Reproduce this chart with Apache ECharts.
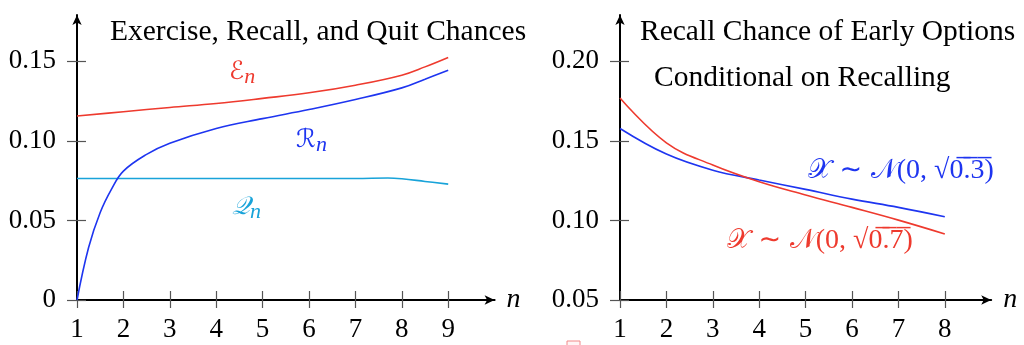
<!DOCTYPE html>
<html>
<head>
<meta charset="utf-8">
<script src="https://cdn.jsdelivr.net/npm/echarts@6/dist/echarts.min.js"></script>
<style>html,body{margin:0;padding:0;background:#fff}#c{width:1024px;height:345px}</style>
</head>
<body>
<div id="c"></div>
<script>
// ---- Left panel data ----
const leftTitle = "Exercise, Recall, and Quit Chances";
const nExercise = [1, 2, 3, 4, 5, 6, 7, 8, 8.5, 9];
const exercise  = [0.1156, 0.1183, 0.1210, 0.1235, 0.1267, 0.1302, 0.1350, 0.1413, 0.1465, 0.1524];
const nRecall   = [1, 1.25, 1.5, 1.75, 2, 2.5, 3, 4, 5, 6, 7, 8, 8.5, 9];
const recall    = [0, 0.033, 0.055, 0.070, 0.081, 0.0915, 0.0985, 0.1078, 0.1140, 0.1197, 0.1260, 0.1333, 0.1388, 0.1444];
const nQuit     = [1, 2, 3, 4, 5, 6, 7, 7.7, 8, 8.5, 9];
const quit      = [0.0764, 0.0764, 0.0764, 0.0764, 0.0764, 0.0764, 0.0764, 0.0767, 0.0762, 0.0745, 0.0728];
const leftXTicks = [1, 2, 3, 4, 5, 6, 7, 8, 9];
const leftYTicks = [0, 0.05, 0.10, 0.15];

// ---- Right panel data ----
const rightTitle1 = "Recall Chance of Early Options";
const rightTitle2 = "Conditional on Recalling";
const nRight     = [1, 2, 3, 4, 5, 6, 7, 8];
const recallLow  = [0.1578, 0.1417, 0.1316, 0.1254, 0.1195, 0.1134, 0.1082, 0.1023];
const recallHigh = [0.1770, 0.1488, 0.1348, 0.1243, 0.1160, 0.1082, 0.1002, 0.0915];
const rightXTicks = [1, 2, 3, 4, 5, 6, 7, 8];
const rightYTicks = [0.05, 0.10, 0.15, 0.20];

const RED = '#ee3a2e', BLUE = '#1e35f0', CYAN = '#18a3d9';
const FONT = "'Liberation Serif'";
const MATH = "'DejaVu Sans', serif";

const pairs = (xs, ys) => xs.map((x, i) => [x, ys[i]]);
const fmtY = v => (Math.abs(v) < 1e-9 ? '0' : v.toFixed(2));

function xMain(grid, min, max, ticks) {
  return {
    type: 'value', gridIndex: grid, min, max, position: 'bottom',
    axisLine: { show: true, onZero: false, symbol: ['none', 'arrow'], symbolSize: [7, 10],
      lineStyle: { color: '#000', width: 2 } },
    axisTick: { show: true, inside: false, length: 8, customValues: ticks, lineStyle: { color: '#555', width: 1.2 } },
    axisLabel: { show: true, customValues: ticks, margin: 16, color: '#000', fontFamily: FONT, fontSize: 27 },
    splitLine: { show: false },
    name: 'n', nameLocation: 'end', nameGap: 12,
    nameTextStyle: { fontFamily: FONT, fontStyle: 'italic', fontSize: 28, color: '#000', verticalAlign: 'middle', padding: [0, 0, 4, 0] }
  };
}
function xOver(grid, min, max, ticks) {
  return {
    type: 'value', gridIndex: grid, min, max, position: 'bottom',
    axisLine: { show: false }, axisLabel: { show: false }, splitLine: { show: false },
    axisTick: { show: true, inside: true, length: 9, customValues: ticks, lineStyle: { color: '#555', width: 1.2 } }
  };
}
function yMain(grid, min, max, ticks) {
  return {
    type: 'value', gridIndex: grid, min, max, position: 'left',
    axisLine: { show: true, onZero: false, symbol: ['none', 'arrow'], symbolSize: [7, 10],
      lineStyle: { color: '#000', width: 2 } },
    axisTick: { show: true, inside: false, length: 10, customValues: ticks, lineStyle: { color: '#555', width: 1.2 } },
    axisLabel: { show: true, customValues: ticks, margin: 21, color: '#000', fontFamily: FONT, fontSize: 27, formatter: fmtY },
    splitLine: { show: false }
  };
}
function yOver(grid, min, max, ticks) {
  return {
    type: 'value', gridIndex: grid, min, max, position: 'left',
    axisLine: { show: false }, axisLabel: { show: false }, splitLine: { show: false },
    axisTick: { show: true, inside: true, length: 9, customValues: ticks, lineStyle: { color: '#555', width: 1.2 } }
  };
}
function line(xi, yi, data, color) {
  return { type: 'line', xAxisIndex: xi, yAxisIndex: yi, data, smooth: 0.4, showSymbol: false,
    lineStyle: { color, width: 1.6 }, itemStyle: { color }, silent: true, z: 3 };
}
function distLabel(v) {
  const over = v.split('').map(c => c + '\u0305').join('');
  return '{m|𝒳 ∼ 𝒩}{t|(0, √' + over + ')}';
}
function distRich(color) {
  return {
    m: { fontFamily: MATH, fontSize: 27, fill: color },
    t: { fontFamily: FONT, fontSize: 28, fill: color }
  };
}

const chart = echarts.init(document.getElementById('c'), null, { renderer: 'canvas' });
chart.setOption({
  animation: false,
  backgroundColor: '#fff',
  grid: [
    { left: 77, top: 15, width: 417.6, height: 285 },
    { left: 620, top: 15, width: 371.2, height: 285 }
  ],
  xAxis: [
    xMain(0, 1, 10, leftXTicks), xOver(0, 1, 10, leftXTicks),
    xMain(1, 1, 9, rightXTicks), xOver(1, 1, 9, rightXTicks)
  ],
  yAxis: [
    yMain(0, 0, 0.1791, leftYTicks), yOver(0, 0, 0.1791, leftYTicks),
    yMain(1, 0.05, 0.2291, rightYTicks), yOver(1, 0.05, 0.2291, rightYTicks)
  ],
  series: [
    line(0, 0, pairs(nQuit, quit), CYAN),
    line(0, 0, pairs(nExercise, exercise), RED),
    line(0, 0, pairs(nRecall, recall), BLUE),
    line(2, 2, pairs(nRight, recallLow), BLUE),
    line(2, 2, pairs(nRight, recallHigh), RED)
  ],
  graphic: [
    { type: 'text', left: 110, top: 17, style: { text: leftTitle, font: `29.5px ${FONT}`, fill: '#000' } },
    { type: 'text', left: 640, top: 17, style: { text: rightTitle1, font: `29.5px ${FONT}`, fill: '#000' } },
    { type: 'text', left: 654, top: 63, style: { text: rightTitle2, font: `29.5px ${FONT}`, fill: '#000' } },
    { type: 'text', left: 229, top: 60, style: {
        text: '{s|ℰ}{n|n}', rich: {
          s: { fontFamily: MATH, fontSize: 25, fill: RED, fontStyle: 'italic' },
          n: { fontFamily: FONT, fontSize: 22, fill: RED, fontStyle: 'italic', padding: [10, 0, 0, 0] } } } },
    { type: 'text', left: 296, top: 128, style: {
        text: '{s|ℛ}{n|n}', rich: {
          s: { fontFamily: MATH, fontSize: 25, fill: BLUE, fontStyle: 'italic' },
          n: { fontFamily: FONT, fontSize: 22, fill: BLUE, fontStyle: 'italic', padding: [10, 0, 0, 0] } } } },
    { type: 'text', left: 232, top: 195, style: {
        text: '{s|𝒬}{n|n}', rich: {
          s: { fontFamily: MATH, fontSize: 25, fill: CYAN, fontStyle: 'italic' },
          n: { fontFamily: FONT, fontSize: 22, fill: CYAN, fontStyle: 'italic', padding: [10, 0, 0, 0] } } } },
    { type: 'text', left: 808, top: 157, style: { text: distLabel('0.3'), rich: distRich(BLUE) } },
    { type: 'text', left: 727, top: 227, style: { text: distLabel('0.7'), rich: distRich(RED) } },
    { type: 'rect', shape: { x: 567, y: 341, width: 13, height: 10 }, style: { fill: '#fff5f5', stroke: '#f28a8a', lineWidth: 1 } }
  ]
});
</script>
</body>
</html>
